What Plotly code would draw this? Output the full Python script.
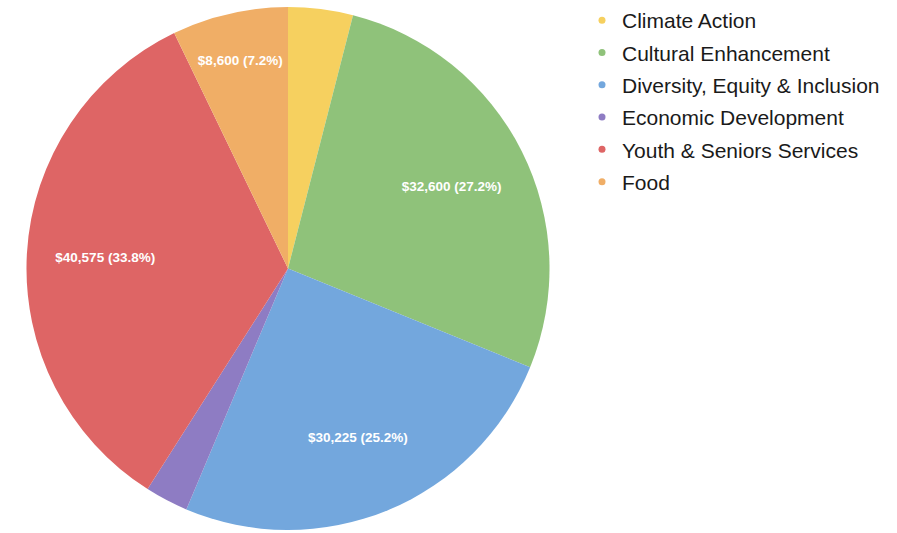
import plotly.graph_objects as go

categories = ["Climate Action", "Cultural Enhancement", "Diversity, Equity & Inclusion",
              "Economic Development", "Youth & Seniors Services", "Food"]
amounts = [4800, 32600, 30225, 3200, 40575, 8600]
show_label = [False, True, True, False, True, True]
colors = ["#F6D05F", "#8FC27A", "#73A7DD", "#8E7CC3", "#DE6565", "#F0AE66"]

templates = ["$%{value:,} (%{percent:.1%})" if s else "" for s in show_label]
domain = dict(x=[25/897, 551/897], y=[3/533, 529/533])

fig = go.Figure()
# filled pie
fig.add_trace(go.Pie(
    labels=categories, values=amounts, sort=False, direction="clockwise", rotation=0,
    marker=dict(colors=colors, line=dict(width=0)),
    textinfo="none", showlegend=False, hoverinfo="label+value+percent",
    domain=domain,
))
# transparent ring carrying the slice labels (pushes them outward)
fig.add_trace(go.Pie(
    labels=categories, values=amounts, sort=False, direction="clockwise", rotation=0,
    hole=0.4, marker=dict(colors=["rgba(0,0,0,0)"] * len(categories), line=dict(width=0)),
    texttemplate=templates, textposition="inside", insidetextorientation="horizontal",
    textfont=dict(family="Liberation Sans, Arial", size=13.5, color="white", weight="bold"),
    showlegend=False, hoverinfo="skip",
    domain=domain,
))
for i, (c, col) in enumerate(zip(categories, colors)):
    fig.add_trace(go.Scatter(
        x=[None], y=[None], mode="markers", name=c, legendgroup=f"g{i}",
        marker=dict(color=col, size=7, symbol="circle"),
    ))

fig.update_layout(
    width=897, height=533, margin=dict(l=0, r=0, t=0, b=0),
    paper_bgcolor="white", plot_bgcolor="white",
    xaxis=dict(visible=False), yaxis=dict(visible=False),
    legend=dict(x=582/897, y=1 + 3/533, xanchor="left", yanchor="top",
                font=dict(family="Liberation Sans, Arial", size=21, color="#1a1a1a"),
                tracegroupgap=2, itemwidth=30, bgcolor="rgba(0,0,0,0)"),
)
fig.write_html("out.html")
